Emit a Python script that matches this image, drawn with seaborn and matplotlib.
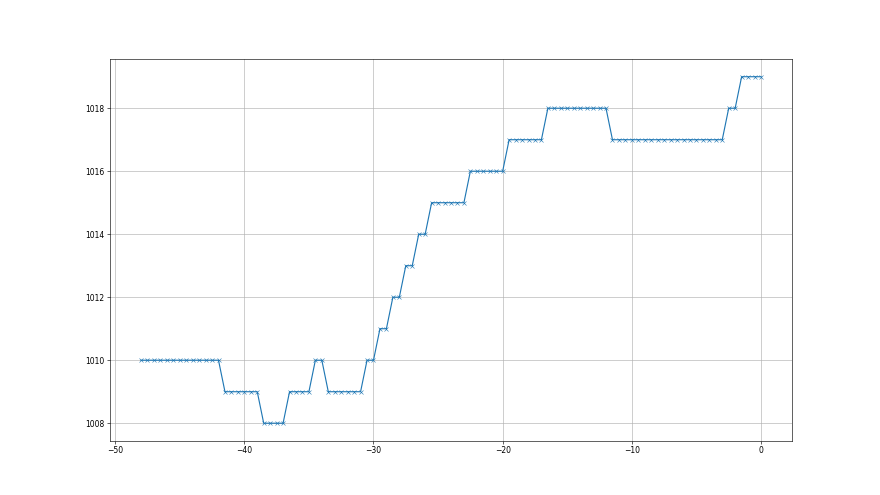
import numpy as np
import pandas as pd
import matplotlib
matplotlib.use("Agg")
import matplotlib.pyplot as plt
import seaborn as sns

# Step levels (value, number of consecutive half-unit samples)
levels = [1010, 1009, 1008, 1009, 1010, 1009, 1010, 1011, 1012, 1013, 1014,
          1015, 1016, 1017, 1018, 1017, 1018, 1019]
counts = [13, 6, 4, 4, 2, 6, 2, 2, 2, 2, 2, 6, 6, 6, 10, 18, 2, 4]

values = [v for v, c in zip(levels, counts) for _ in range(c)]
x_start = -48.0
x_step = 0.5
xs = [x_start + i * x_step for i in range(len(values))]

df = pd.DataFrame({"x": xs, "y": values})

plt.style.use("default")
fig, ax = plt.subplots(figsize=(16, 9), dpi=55)
sns.lineplot(data=df, x="x", y="y", marker="x", color="C0", ax=ax,
             markeredgecolor="C0", markersize=6, linewidth=1.5)
ax.grid(True)
ax.set_xlabel("")
ax.set_ylabel("")
ax.set_xticks([-50, -40, -30, -20, -10, 0])
ax.set_yticks([1008, 1010, 1012, 1014, 1016, 1018])
fig.savefig("out.png", dpi=55)
